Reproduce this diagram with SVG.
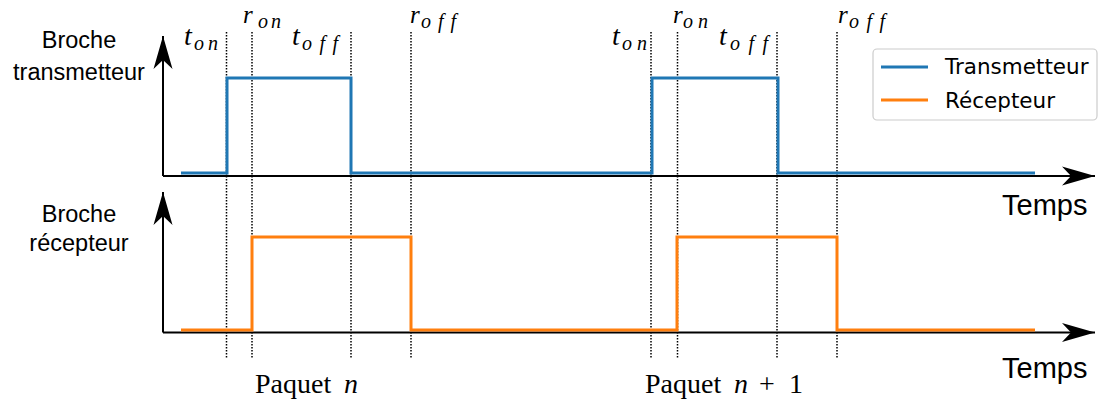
<svg xmlns="http://www.w3.org/2000/svg" width="1102" height="408" viewBox="0 0 1102 408">
<defs>
<style>
.axis{stroke:#000;stroke-width:2;fill:none}
.dot{stroke:#000;stroke-width:1.5;stroke-dasharray:1.5 1.5;fill:none}
.sig{fill:none;stroke-width:3;stroke-linejoin:miter}
.blue{stroke:#1f77b4}
.orange{stroke:#ff7f0e}
.lab{font-family:"Liberation Sans",Arial,sans-serif;font-size:23.5px;fill:#000;text-anchor:middle}
.temps{font-family:"Liberation Sans",Arial,sans-serif;font-size:29px;fill:#000}
.leg{font-family:"DejaVu Sans",sans-serif;font-size:21.5px;fill:#000}
.m{font-family:"Liberation Serif","Times New Roman",serif;font-style:italic;font-size:28px;fill:#000}
.mr{font-family:"Liberation Serif","Times New Roman",serif;font-style:italic;font-size:25px;fill:#000}
.s{font-family:"Liberation Serif","Times New Roman",serif;font-style:italic;font-size:20px;fill:#000}
.rm{font-family:"Liberation Serif","Times New Roman",serif;font-size:28px;fill:#000}
</style>
<marker id="arr" viewBox="0 -10 34 20" refX="33" refY="0" markerWidth="34" markerHeight="20" markerUnits="userSpaceOnUse" orient="auto">
<path d="M0,-9.5 L33,0 L0,9.5 L9,0 Z" fill="#000"/>
</marker>
</defs>
<rect width="1102" height="408" fill="#fff"/>

<g id="connectors">
<path class="axis" d="M163,176 V36" marker-end="url(#arr)"/>
<path class="axis" d="M163,176 H1095" marker-end="url(#arr)"/>
<path class="axis" d="M163,332.5 V192" marker-end="url(#arr)"/>
<path class="axis" d="M163,332.5 H1095" marker-end="url(#arr)"/>
</g>

<g id="guides">
<line class="dot" x1="226.5" y1="32" x2="226.5" y2="358"/>
<line class="dot" x1="252" y1="32" x2="252" y2="358"/>
<line class="dot" x1="351" y1="32" x2="351" y2="358"/>
<line class="dot" x1="411" y1="32" x2="411" y2="358"/>
<line class="dot" x1="651" y1="32" x2="651" y2="358"/>
<line class="dot" x1="677.5" y1="32" x2="677.5" y2="358"/>
<line class="dot" x1="777" y1="32" x2="777" y2="358"/>
<line class="dot" x1="837" y1="32" x2="837" y2="358"/>
</g>

<g id="signal-transmetteur">
<path class="sig blue" d="M181,173 H227 V78 H351 V173 H652 V78 H778 V173 H1035"/>
</g>
<g id="signal-recepteur">
<path class="sig orange" d="M181,330 H252 V237 H411 V330 H677 V237 H837 V330 H1035"/>
</g>

<g id="label-transmetteur">
<text class="lab" x="79" y="48">Broche</text>
<text class="lab" x="79" y="80">transmetteur</text>
</g>
<g id="label-recepteur">
<text class="lab" x="79" y="222">Broche</text>
<text class="lab" x="79" y="251">récepteur</text>
</g>
<g id="temps-labels">
<text class="temps" x="1002" y="215">Temps</text>
<text class="temps" x="1002" y="378">Temps</text>
</g>

<g id="math-labels">
<text class="m" x="184" y="45">t</text><text class="s" x="194" y="50" textLength="24" lengthAdjust="spacing">on</text>
<text class="mr" x="243" y="23">r</text><text class="s" x="258" y="28" textLength="23" lengthAdjust="spacing">on</text>
<text class="m" x="292" y="45">t</text><text class="s" x="302" y="50" textLength="36" lengthAdjust="spacing">off</text>
<text class="mr" x="410" y="23">r</text><text class="s" x="421" y="28" textLength="35" lengthAdjust="spacing">off</text>
<text class="m" x="612" y="45">t</text><text class="s" x="622" y="50" textLength="25" lengthAdjust="spacing">on</text>
<text class="mr" x="673" y="23">r</text><text class="s" x="683" y="28" textLength="25" lengthAdjust="spacing">on</text>
<text class="m" x="719" y="45">t</text><text class="s" x="730" y="50" textLength="38" lengthAdjust="spacing">off</text>
<text class="mr" x="838" y="23">r</text><text class="s" x="849" y="28" textLength="36" lengthAdjust="spacing">off</text>
</g>

<g id="packet-labels">
<text class="rm" x="255" y="393">Paquet</text>
<text class="m" x="344" y="393">n</text>
<text class="rm" x="645" y="393">Paquet</text>
<text class="m" x="734" y="393">n</text>
<text class="rm" x="759" y="393">+</text>
<text class="rm" x="789" y="393">1</text>
</g>

<g id="legend">
<rect x="873" y="49" width="224" height="71" rx="4" ry="4" fill="#fff" fill-opacity="0.8" stroke="#cccccc" stroke-width="1.2"/>
<line class="sig blue" x1="881" y1="67" x2="928" y2="67"/>
<line class="sig orange" x1="881" y1="100" x2="928" y2="100"/>
<text class="leg" x="945" y="74">Transmetteur</text>
<text class="leg" x="945" y="108">Récepteur</text>
</g>
</svg>
